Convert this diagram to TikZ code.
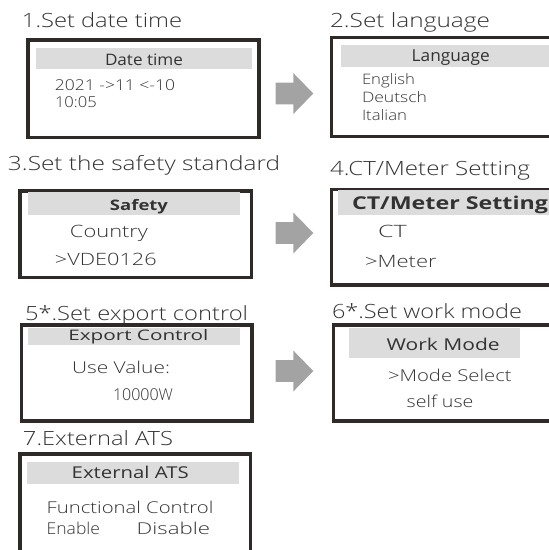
\documentclass[tikz,border=0pt]{standalone}
\usepackage{fontspec}
\usepackage{graphicx}
\setmainfont{Liberation Sans}
\newfontfamily\lightfam{Open Sans Light}
\newfontfamily\regfam{Open Sans}
\definecolor{framec}{HTML}{2E2A2A}
\definecolor{hdrc}{HTML}{DCDCDC}
\definecolor{arrc}{HTML}{A3A3A3}
\definecolor{txtc}{HTML}{333333}
\newcommand\fitw[3]{\resizebox{#1pt}{\height}{\fontsize{#2}{#2}\selectfont #3}}
\tikzset{
 frame/.style={draw=framec, line width=3.8pt, anchor=north west, inner sep=0pt, outer sep=0pt},
 hdr/.style={fill=hdrc, anchor=north west, inner sep=0pt, outer sep=0pt},
 tx/.style={anchor=base west, inner sep=0pt, outer sep=0pt, text=txtc, font=\lightfam},
 hx/.style={anchor=base west, inner sep=0pt, outer sep=0pt, text=txtc, font=\regfam},
 hb/.style={anchor=base west, inner sep=0pt, outer sep=0pt, text=txtc, font=\regfam\bfseries},
 bigarr/.pic={\fill[arrc] (0,-10.8) -- (17.6,-10.8) -- (17.6,-20.5) -- (37.6,0) -- (17.6,20.5) -- (17.6,10.8) -- (0,10.8) -- cycle;}
}
\begin{document}
\begin{tikzpicture}[x=1pt,y=-1pt]
\useasboundingbox (0,0) rectangle (549,550);
\clip (0,0) rectangle (549,550);
% titles
\node[tx] (t1) at (22,27) {\fitw{160}{19.6}{1.Set date time}};
\node[tx] (t2) at (330,27) {\fitw{160}{19.6}{2.Set language}};
\node[tx] (t3) at (8,170) {\fitw{272}{19.6}{3.Set the safety standard}};
\node[tx] (t4) at (330,175) {\fitw{200}{19.6}{4.CT/Meter Setting}};
\node[tx] (t5) at (25,320) {\fitw{223}{19.6}{5*.Set export control}};
\node[tx] (t6) at (332,318) {\fitw{190}{19.6}{6*.Set work mode}};
\node[tx] (t7) at (23,445) {\fitw{150}{19.6}{7.External ATS}};
% frames
\node[frame, minimum width=231.2pt, minimum height=97.8pt] (b1) at (28,39.7) {};
\node[frame, minimum width=230pt, minimum height=99pt] (b2) at (331.5,37.5) {};
\node[frame, minimum width=231.5pt, minimum height=86.5pt] (b3) at (20,191) {};
\node[frame, minimum width=230pt, minimum height=95.5pt] (b4) at (331.5,189.5) {};
\node[frame, minimum width=230.5pt, minimum height=96pt] (b5) at (21.5,325) {};
\node[frame, minimum width=230pt, minimum height=96pt] (b6) at (333.5,325) {};
\node[frame, minimum width=230.5pt, minimum height=110pt] (b7) at (20,454) {};
% headers
\node[hdr, minimum width=216pt, minimum height=21pt] (h1) at (36,48) {};
\node[hdr, minimum width=220pt, minimum height=22.5pt] (h2) at (341,44.5) {};
\node[hdr, minimum width=212pt, minimum height=22.5pt] (h3) at (28,192) {};
\node[hdr, minimum width=220pt, minimum height=25pt] (h4) at (338,190) {};
\node[hdr, minimum width=212pt, minimum height=17.5pt] (h5) at (28,327.5) {};
\node[hdr, minimum width=171pt, minimum height=30pt] (h6) at (349,328) {};
\node[hdr, minimum width=212pt, minimum height=22pt] (h7) at (27,462) {};
% header texts
\node[hx] (ht1) at (105,65.7) {\fitw{78}{15.8}{Date time}};
\node[hx] (ht2) at (411.7,61.7) {\fitw{78}{16.5}{Language}};
\node[hb] (ht3) at (110,210) {\fitw{58}{14.5}{Safety}};
\node[hb] (ht4) at (352,209.3) {\fitw{196}{17.7}{CT/Meter Setting}};
\node[hx] (ht5) at (68.3,340.5) {\fitw{140}{14.5}{Export Control}};
\node[hx] (ht6) at (386.7,350) {\fitw{113}{16.3}{Work Mode}};
\node[hx] (ht7) at (71.7,478.5) {\fitw{117}{16.3}{External ATS}};
% body texts
\node[tx] (x11) at (55,90.7) {\fitw{120}{15}{2021 ->11 <-10}};
\node[tx] (x12) at (55,107.3) {\fitw{41.7}{15}{10:05}};
\node[tx] (x21) at (362,84.3) {\fitw{53}{14.4}{English}};
\node[tx] (x22) at (362,102.7) {\fitw{65}{14.4}{Deutsch}};
\node[tx] (x23) at (362,120.5) {\fitw{45}{14.4}{Italian}};
\node[tx] (x31) at (70,237.3) {\fitw{78}{17}{Country}};
\node[tx] (x32) at (55,265) {\fitw{101.7}{17}{>VDE0126}};
\node[tx] (x41) at (378,237.3) {\fitw{28.7}{17}{CT}};
\node[tx] (x42) at (365,267.3) {\fitw{71.7}{17}{>Meter}};
\node[tx] (x51) at (72,373.5) {\fitw{98}{16.3}{Use Value:}};
\node[tx] (x52) at (113,400) {\fitw{60}{16.3}{10000W}};
\node[tx] (x61) at (388,381) {\fitw{123.7}{16.3}{>Mode Select}};
\node[tx] (x62) at (406.7,407.5) {\fitw{66.7}{16.3}{self use}};
\node[tx] (x71) at (46.7,513) {\fitw{166.7}{16.3}{Functional Control}};
\node[tx] (x72) at (46.7,534) {\fitw{53.3}{16.3}{Enable}};
\node[tx] (x73) at (136.7,534) {\fitw{73.3}{16.3}{Disable}};
% arrows
\pic (a1) at (275.7,93.5) {bigarr};
\pic (a2) at (275.7,233) {bigarr};
\pic (a3) at (275.7,371) {bigarr};
\end{tikzpicture}
\end{document}
